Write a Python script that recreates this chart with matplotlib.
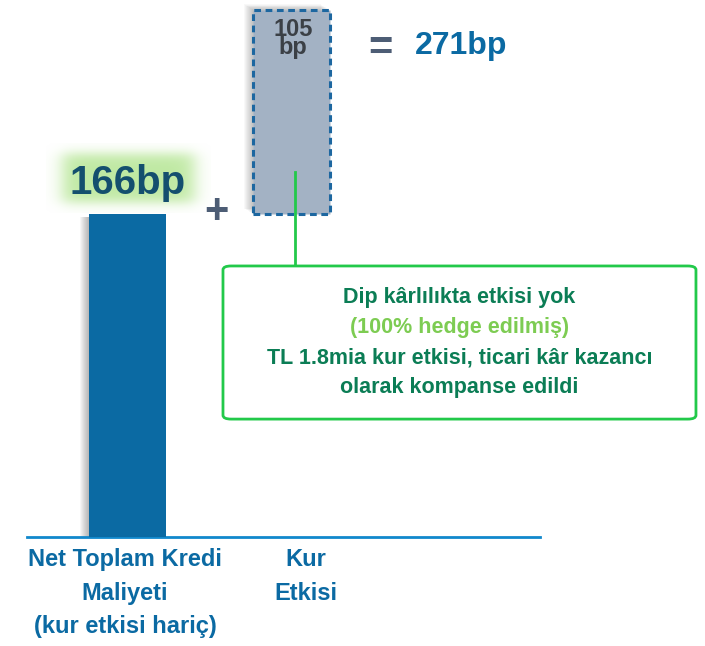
import numpy as np
import matplotlib
matplotlib.use("Agg")
import matplotlib.pyplot as plt
from matplotlib.patches import FancyBboxPatch
import matplotlib.transforms as mtransforms

# ---- data ----
categories = ["Net Toplam Kredi\nMaliyeti\n(kur etkisi hariç)", "Kur\nEtkisi"]
base_value = 166          # bp
fx_effect = 105           # bp
total_value = base_value + fx_effect   # 271 bp
value_labels = ["166bp", "105\nbp", "271bp"]
note_lines = ["Dip kârlılıkta etkisi yok", "(100% hedge edilmiş)",
              "TL 1.8mia kur etkisi, ticari kâr kazancı", "olarak kompanse edildi"]

FONT = ["Liberation Sans", "DejaVu Sans"]
plt.rcParams["font.family"] = FONT
plt.rcParams["font.weight"] = "bold"

W, H = 705, 646
fig = plt.figure(figsize=(W / 100, H / 100), dpi=100)
ax = fig.add_axes([27 / W, (H - 537) / H, (540 - 27) / W, 537 / H])
XL = (-0.613, 2.515)
YL = (0, 276)
ax.set_xlim(*XL)
ax.set_ylim(*YL)
for s in ["top", "left", "right"]:
    ax.spines[s].set_visible(False)
ax.spines["bottom"].set_color("#1188cc")
ax.spines["bottom"].set_linewidth(2)
ax.set_xticks([])
ax.set_yticks([])

x = np.arange(len(categories))
bw = 0.47
px_x = (XL[1] - XL[0]) / 513.0
px_y = (YL[1] - YL[0]) / 537.0

# soft shadows (left side, darker near the bar)
for i in range(1, 10):
    ax.bar(x[0] - i * px_x, base_value - 3 * px_y, width=bw, color="#3a3a3a",
           alpha=0.045, zorder=1, linewidth=0)
    ax.bar(x[1] - i * px_x, fx_effect, bottom=base_value + i * 0.6 * px_y,
           width=bw, color="#3a3a3a", alpha=0.035, zorder=1, linewidth=0)

# bars
ax.bar(x[0], base_value, width=bw, color="#0b6aa3", zorder=3)
ax.bar(x[1], fx_effect, bottom=base_value, width=bw, color="#a3b2c4",
       edgecolor="#1d67a0", linewidth=2.2, linestyle=(0, (2.2, 1.5)), zorder=3)

# green glow behind 166bp
gx = np.linspace(-1, 1, 240)
gy = np.linspace(-1, 1, 120)
GX, GY = np.meshgrid(gx, gy)
mask = (1 / (1 + np.exp((np.abs(GX) - 0.80) * 16))) * (1 / (1 + np.exp((np.abs(GY) - 0.70) * 10)))
rgba = np.zeros((120, 240, 4))
rgba[..., 0] = 0.74
rgba[..., 1] = 0.91
rgba[..., 2] = 0.62
rgba[..., 3] = mask * 0.95
ax.imshow(rgba, extent=(x[0] - 0.50, x[0] + 0.50, base_value + 0.5, base_value + 36),
          aspect="auto", zorder=2, interpolation="bilinear")
ax.set_xlim(*XL)
ax.set_ylim(*YL)

# value labels
ax.text(x[0], base_value + 16, value_labels[0], ha="center", va="center",
        fontsize=29, color="#144f6e", fontweight="bold", zorder=4)
ax.text(x[1] + 0.01, total_value - 4.5, value_labels[1], ha="center", va="top",
        fontsize=17, color="#3b4046", fontweight="bold", linespacing=0.72, zorder=4)
ax.text(0.54, base_value + 1, "+", ha="center", va="center", fontsize=30,
        color="#4d5d75", fontweight="bold")
ax.text(1.54, total_value - 20, "=", ha="center", va="center", fontsize=30,
        color="#4d5d75", fontweight="bold")
ax.text(1.75, total_value - 18.5, value_labels[2], ha="left", va="center",
        fontsize=23, color="#0b6aa3", fontweight="bold")

# connector and note box
ax.plot([x[1] + 0.02, x[1] + 0.02], [base_value + 21.6, 139.3], color="#22c94a",
        lw=2, zorder=5, clip_on=False)
box = FancyBboxPatch((0.582, 60.6), 3.466 - 0.582, 139.3 - 60.6,
                     boxstyle="round,pad=0,rounding_size=0.05",
                     mutation_aspect=40, facecolor="white", edgecolor="#22c94a",
                     lw=2, clip_on=False, zorder=5)
ax.add_patch(box)
cx = (0.582 + 3.466) / 2
note_y = [123.3, 107.9, 92.0, 76.6]
note_c = ["#0b7d55", "#7dcc52", "#0b7d55", "#0b7d55"]
for t, yy, c in zip(note_lines, note_y, note_c):
    ax.text(cx, yy, t, ha="center", va="center", fontsize=15.5, color=c,
            fontweight="bold", clip_on=False, zorder=6)

# category labels
trans = mtransforms.blended_transform_factory(ax.transData, ax.transAxes)
label_x = [x[0] - 0.015, x[1] + 0.09]
for lx, lab in zip(label_x, categories):
    ax.text(lx, -0.02, lab, transform=trans, ha="center", va="top",
            fontsize=17, color="#0b6aa3", fontweight="bold", linespacing=1.6)

fig.savefig("out.png", dpi=100, facecolor="white")
